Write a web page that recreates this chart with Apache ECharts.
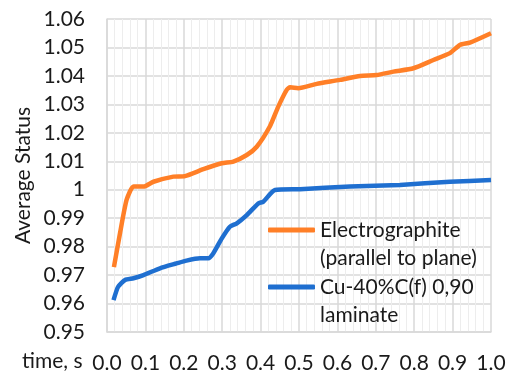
<!DOCTYPE html>
<html>
<head>
<meta charset="utf-8">
<script src="https://cdn.jsdelivr.net/npm/echarts@6/dist/echarts.min.js"></script>
<style>
  html, body { margin: 0; padding: 0; background: #fff; }
  #main { width: 512px; height: 372px; }
</style>
</head>
<body>
<div id="main"></div>
<script>
// 数据
var elecT = [0.018, 0.034, 0.051, 0.069, 0.095, 0.121, 0.173, 0.203, 0.251, 0.299, 0.329, 0.364, 0.39, 0.424, 0.446, 0.468, 0.477, 0.498, 0.546, 0.607, 0.659, 0.702, 0.746, 0.798, 0.85, 0.893, 0.919, 0.945, 1.0];
var elecV = [0.9728, 0.9848, 0.9964, 1.0011, 1.0011, 1.0028, 1.0046, 1.0048, 1.0072, 1.0093, 1.0099, 1.0122, 1.0151, 1.0222, 1.0292, 1.0351, 1.036, 1.0357, 1.0372, 1.0386, 1.04, 1.0403, 1.0415, 1.0427, 1.0456, 1.048, 1.0509, 1.0517, 1.055];
var cuT = [0.017, 0.029, 0.047, 0.069, 0.095, 0.138, 0.181, 0.207, 0.242, 0.264, 0.277, 0.299, 0.32, 0.338, 0.364, 0.394, 0.407, 0.4375, 0.5026, 0.633, 0.763, 0.893, 1.0];
var cuV = [0.9612, 0.9659, 0.9683, 0.9689, 0.97, 0.9724, 0.9741, 0.9751, 0.9759, 0.9759, 0.9777, 0.9829, 0.987, 0.9882, 0.9911, 0.9952, 0.9958, 0.9999, 1.0002, 1.0011, 1.0017, 1.0028, 1.0034];
var names = ["Electrographite (parallel to plane)", "Cu-40%C(f) 0,90 laminate"];
// 首行留空, 让图例线条对齐第一行文字
var legendText = ["\nElectrographite\n(parallel to plane)", "\nCu-40%C(f) 0,90\nlaminate"];

function pairs(xs, ys) {
  var out = [];
  for (var i = 0; i < xs.length; i++) out.push([xs[i], ys[i]]);
  return out;
}

var font = "Lato";
var fs = 21;
var chart = echarts.init(document.getElementById("main"));

var legendStyle = {
  fontFamily: font,
  fontSize: fs,
  color: "#1a1a1a",
  lineHeight: 28
};

var option = {
  animation: false,
  title: {
    text: "time, s",
    left: 22,
    top: 351,
    padding: 0,
    textStyle: { fontFamily: font, fontSize: fs, fontWeight: "normal", color: "#1a1a1a" }
  },
  grid: { left: 107, top: 19, right: 21, bottom: 40, outerBoundsMode: "none" },
  legend: [
    {
      data: [names[0]],
      left: 268,
      top: 188,
      padding: 0,
      icon: "roundRect",
      itemWidth: 47,
      itemHeight: 5,
      formatter: function () { return legendText[0]; },
      textStyle: legendStyle
    },
    {
      data: [names[1]],
      left: 268,
      top: 245,
      padding: 0,
      icon: "roundRect",
      itemWidth: 47,
      itemHeight: 5,
      formatter: function () { return legendText[1]; },
      textStyle: legendStyle
    }
  ],
  xAxis: {
    type: "value",
    min: 0,
    max: 1,
    interval: 0.1,
    axisLine: { show: true, lineStyle: { color: "#d9d9d9", width: 1.5 } },
    axisTick: { show: false },
    axisLabel: {
      margin: 21,
      fontFamily: font,
      fontSize: fs,
      color: "#1a1a1a",
      formatter: function (v) { return v.toFixed(1); }
    },
    splitLine: { show: true, lineStyle: { color: "#d9d9d9", width: 1.5 } },
    minorTick: { show: false, splitNumber: 5 },
    minorSplitLine: { show: true, lineStyle: { color: "#ededed", width: 1 } }
  },
  yAxis: {
    type: "value",
    min: 0.95,
    max: 1.06,
    interval: 0.01,
    name: "Average Status",
    nameLocation: "middle",
    nameGap: 73,
    nameMoveOverlap: false,
    nameTextStyle: { fontFamily: font, fontSize: fs, color: "#1a1a1a" },
    axisLine: { show: true, lineStyle: { color: "#d9d9d9", width: 1.5 } },
    axisTick: { show: false },
    axisLabel: {
      margin: 22,
      fontFamily: font,
      fontSize: fs,
      color: "#1a1a1a",
      formatter: function (v) { return String(parseFloat(v.toFixed(2))); }
    },
    splitLine: { show: true, lineStyle: { color: "#d9d9d9", width: 1.5 } }
  },
  series: [
    {
      name: names[0],
      type: "line",
      data: pairs(elecT, elecV),
      symbol: "none",
      smooth: 0.2,
      color: "#ff7f27",
      lineStyle: { width: 4.5, color: "#ff7f27" }
    },
    {
      name: names[1],
      type: "line",
      data: pairs(cuT, cuV),
      symbol: "none",
      smooth: 0.2,
      color: "#1f6fd0",
      lineStyle: { width: 4.5, color: "#1f6fd0" }
    }
  ]
};

chart.setOption(option);
</script>
</body>
</html>
